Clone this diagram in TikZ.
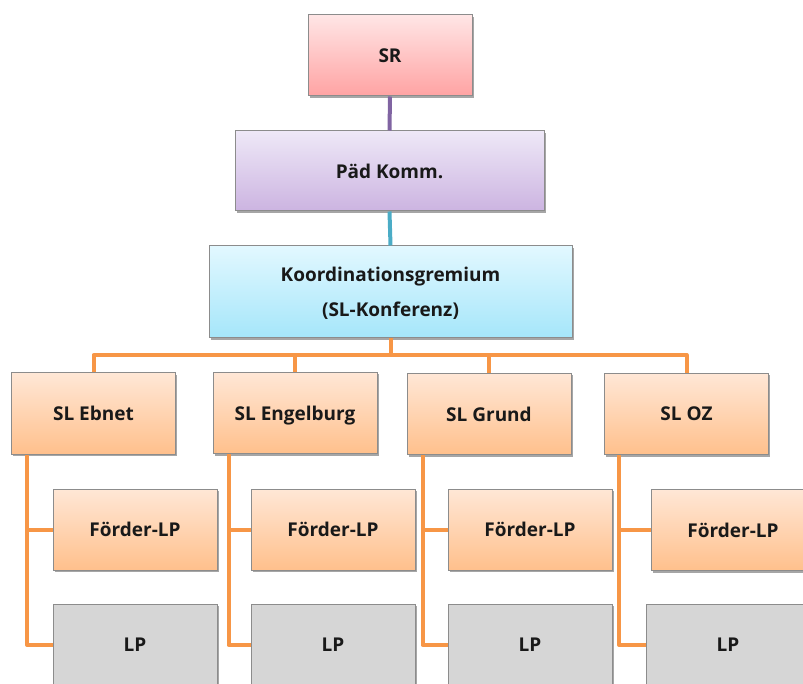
\documentclass[tikz,border=0pt]{standalone}
\usepackage{fontspec}
\setmainfont{Open Sans}
\usetikzlibrary{shadows,calc}
\definecolor{bordergray}{HTML}{8C8C8C}
\definecolor{purpline}{HTML}{8064A2}
\definecolor{tealline}{HTML}{4BACC6}
\definecolor{orangeline}{HTML}{F79646}
\tikzset{
  box/.style={draw=bordergray, line width=1pt, minimum width=164pt, minimum height=81pt,
    inner sep=0pt, align=center, font=\fontsize{19}{35}\selectfont\bfseries, text=black!90,
    text depth=0pt,
    drop shadow={shadow xshift=1.5pt, shadow yshift=-2pt, opacity=0.35, fill=black}},
  srbox/.style={box, top color=red!10, bottom color={rgb,255:red,255;green,163;blue,163}},
  pkbox/.style={box, top color={rgb,255:red,238;green,232;blue,247}, bottom color={rgb,255:red,204;green,180;blue,225}},
  kobox/.style={box, top color={rgb,255:red,226;green,248;blue,255}, bottom color={rgb,255:red,165;green,230;blue,250}},
  orbox/.style={box, top color={rgb,255:red,255;green,231;blue,214}, bottom color={rgb,255:red,255;green,192;blue,140}},
  lpbox/.style={box, fill={rgb,255:red,214;green,214;blue,214}},
  conn/.style={line width=4pt, line join=round},
}
\begin{document}
\begin{tikzpicture}[x=1pt,y=-1pt]
\useasboundingbox (0,0) rectangle (803,684);
\node[srbox] (sr) at (390,55.5) {SR};
\node[pkbox, minimum width=309pt, minimum height=80pt] (pk) at (389.5,171) {Päd Komm.};
\node[kobox, minimum width=363pt, minimum height=92pt] (ko) at (390.5,292) {Koordinationsgremium\\(SL-Konferenz)};
\node[orbox] (sla) at (93.5,413.5) {SL Ebnet};
\node[orbox] (slb) at (295,413) {SL Engelburg};
\node[orbox] (slc) at (489,414) {SL Grund};
\node[orbox] (sld) at (686.5,414) {SL OZ};
\node[orbox] (fa) at (135,529.5) {Förder-LP};
\node[orbox] (fb) at (333,529.5) {Förder-LP};
\node[orbox] (fc) at (530,529.5) {Förder-LP};
\node[orbox] (fd) at (733,530) {Förder-LP};
\node[lpbox, minimum height=82pt] (la) at (135,645) {LP};
\node[lpbox, minimum height=82pt] (lb) at (333,645) {LP};
\node[lpbox, minimum height=82pt] (lc) at (530,645) {LP};
\node[lpbox, minimum height=82pt] (ld) at (728,645) {LP};
\coordinate (bus) at (390.5,355);
\draw[conn, purpline] (sr.south) -- (pk.north);
\draw[conn, tealline] (pk.south) -- (ko.north);
\draw[conn, orangeline] (ko.south) -- (bus);
\draw[conn, orangeline] (sla.north) |- (bus) -| (sld.north);
\draw[conn, orangeline] (slb.north) -- (slb.north |- bus);
\draw[conn, orangeline] (slc.north) -- (slc.north |- bus);
\draw[conn, orangeline] ([xshift=16pt]sla.south west) |- (fa.west);
\draw[conn, orangeline] ([xshift=16pt]sla.south west) |- (la.west);
\draw[conn, orangeline] ([xshift=16pt]slb.south west) |- (fb.west);
\draw[conn, orangeline] ([xshift=16pt]slb.south west) |- (lb.west);
\draw[conn, orangeline] ([xshift=16pt]slc.south west) |- (fc.west);
\draw[conn, orangeline] ([xshift=16pt]slc.south west) |- (lc.west);
\draw[conn, orangeline] ([xshift=15pt]sld.south west) |- (fd.west);
\draw[conn, orangeline] ([xshift=15pt]sld.south west) |- (ld.west);
\end{tikzpicture}
\end{document}
